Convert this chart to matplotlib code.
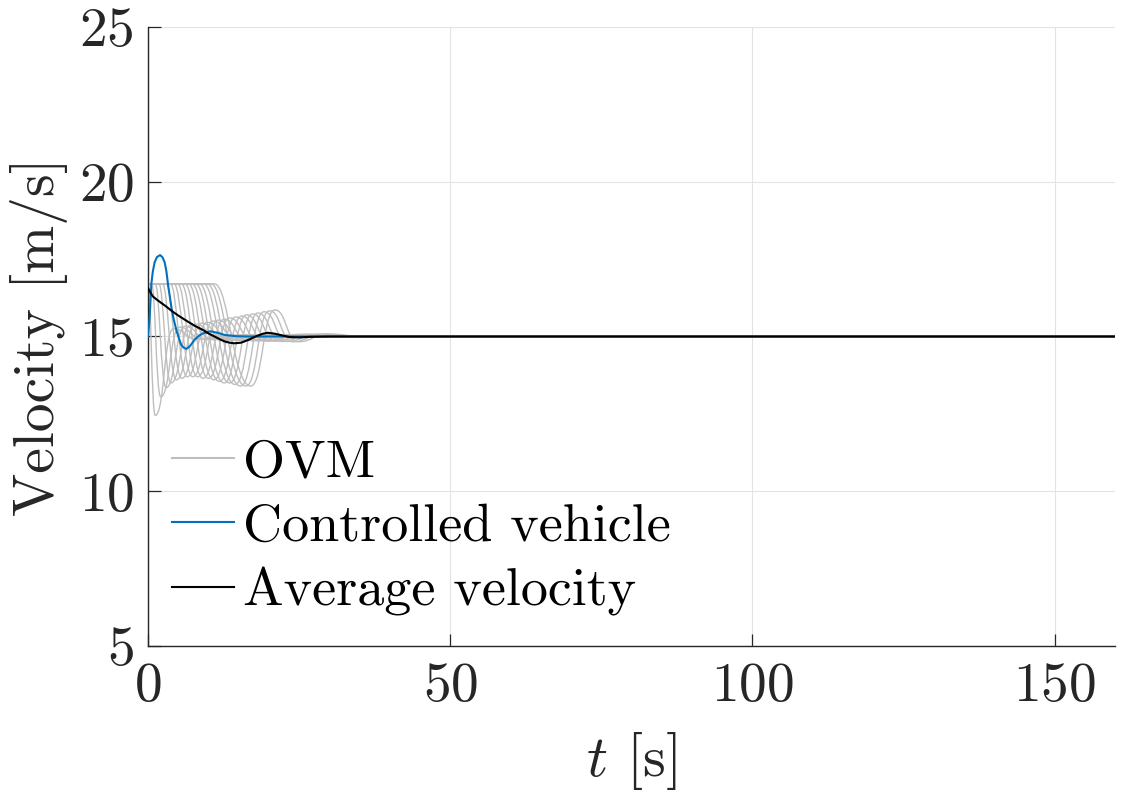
import matplotlib
matplotlib.use('Agg')
import matplotlib.pyplot as plt
from matplotlib.path import Path
from matplotlib.patches import PathPatch
from matplotlib.lines import Line2D

plt.rcParams['font.family'] = ['cmr10', 'DejaVu Serif']
plt.rcParams['mathtext.fontset'] = 'cm'
plt.rcParams['axes.formatter.use_mathtext'] = True

# ---------------- data ----------------
v_init = 16.7
v_eq = 15.0
t_end = 160.0

# OVM vehicles: plateau end, first minimum, first peak, undershoot, small overshoot, settle
ovm_t_drop = [0.0, 0.6, 1.2, 1.8, 2.4, 3.0, 3.7, 4.3, 4.9, 5.5, 6.1, 6.7, 7.3, 7.9, 8.5, 9.2, 9.8, 10.4, 11.0]
ovm_t_min = [1.2, 2.1, 3.0, 3.8, 4.7, 5.6, 6.5, 7.4, 8.2, 9.1, 10.0, 10.9, 11.8, 12.6, 13.5, 14.4, 15.3, 16.2, 17.0]
ovm_v_min = [12.45, 13.05, 13.35, 13.5, 13.6, 13.65, 13.7, 13.7, 13.7, 13.65, 13.65, 13.6, 13.55, 13.5, 13.5, 13.45, 13.4, 13.4, 13.4]
ovm_t_peak = [4.2, 5.2, 6.1, 7.0, 7.9, 8.9, 9.8, 10.8, 11.6, 12.6, 13.5, 14.5, 15.5, 16.3, 17.3, 18.2, 19.2, 20.1, 21.0]
ovm_v_peak = [15.25, 15.3, 15.33, 15.36, 15.4, 15.43, 15.46, 15.5, 15.53, 15.56, 15.6, 15.63, 15.66, 15.7, 15.73, 15.76, 15.8, 15.83, 15.86]
ovm_t_under = [8.0, 9.0, 9.9, 10.8, 11.7, 12.7, 13.6, 14.6, 15.4, 16.4, 17.3, 18.3, 19.3, 20.1, 21.1, 22.0, 23.0, 23.9, 24.8]
ovm_v_under = [14.92, 14.92, 14.9, 14.9, 14.9, 14.88, 14.88, 14.88, 14.87, 14.87, 14.86, 14.86, 14.85, 14.85, 14.85, 14.84, 14.84, 14.83, 14.83]
ovm_t_over = [13.0, 14.0, 14.9, 15.8, 16.7, 17.7, 18.6, 19.6, 20.4, 21.4, 22.3, 23.3, 24.3, 25.1, 26.1, 27.0, 28.0, 28.9, 29.8]
ovm_v_over = [15.04, 15.04, 15.04, 15.05, 15.05, 15.05, 15.05, 15.05, 15.06, 15.06, 15.06, 15.06, 15.06, 15.07, 15.07, 15.07, 15.07, 15.08, 15.08]
ovm_t_settle = [19.0, 20.0, 20.9, 21.8, 22.7, 23.7, 24.6, 25.6, 26.4, 27.4, 28.3, 29.3, 30.3, 31.1, 32.1, 33.0, 34.0, 34.9, 35.8]

# controlled vehicle
cv_t = [0, 0.28, 0.55, 0.8, 1.1, 1.5, 2.0, 2.4, 2.75, 3.05, 3.3, 3.6, 3.86, 4.2, 4.7, 5.1, 5.5,
        5.9, 6.35, 6.9, 7.7, 8.4, 9.1, 10.3, 11.5, 12.7, 14.5, 16.6, 160]
cv_v = [15.0, 15.64, 16.7, 17.1, 17.4, 17.57, 17.63, 17.56, 17.4, 17.1, 16.7, 16.3, 15.96, 15.6, 15.2, 14.95, 14.73,
        14.64, 14.6, 14.68, 14.89, 15.02, 15.1, 15.17, 15.12, 15.05, 15.01, 15.0, 15.0]

# average velocity
avg_t = [0, 0.4, 0.83, 1.66, 2.8, 4.1, 5.3, 6.6, 7.8, 9.1, 10.0, 11.0, 12.0, 12.7, 13.5, 14.3, 15.4,
         16.6, 17.8, 19.0, 19.8, 21.0, 22.3, 23.5, 25.0, 27, 30, 160]
avg_v = [16.56, 16.42, 16.29, 16.16, 16.0, 15.8, 15.64, 15.48, 15.34, 15.21, 15.1, 15.0, 14.9, 14.84, 14.8, 14.78, 14.8,
         14.89, 15.0, 15.09, 15.12, 15.09, 15.03, 14.98, 14.97, 14.99, 15.0, 15.0]

legend_labels = ['OVM', 'Controlled vehicle', 'Average velocity']
x_ticks = [0, 50, 100, 150]
y_ticks = [5, 10, 15, 20, 25]

# ---------------- styles ----------------
c_gray = '#BEBEBE'
c_blue = '#0072BD'
c_black = '#000000'
c_axis = '#262626'

fig = plt.figure(figsize=(11.32, 7.95), dpi=100)
ax = fig.add_axes([148 / 1132, (795 - 646) / 795, (1115 - 148) / 1132, (646 - 27) / 795])


def smooth_path(points, first_handles=(0.4, 0.5)):
    """Bezier path through key points with horizontal tangents at each key point."""
    verts = [points[0]]
    codes = [Path.MOVETO]
    for i in range(1, len(points)):
        (ta, va), (tb, vb) = points[i - 1], points[i]
        if va == vb:
            verts.append((tb, vb))
            codes.append(Path.LINETO)
            continue
        a, b = (first_handles if i == 1 or (i == 2 and points[0][1] == points[1][1]) else (0.5, 0.5))
        dt = tb - ta
        verts += [(ta + a * dt, va), (tb - b * dt, vb), (tb, vb)]
        codes += [Path.CURVE4] * 3
    return Path(verts, codes)


for k in range(len(ovm_t_drop)):
    pts = [(0.0, v_init)]
    if ovm_t_drop[k] > 0:
        pts.append((ovm_t_drop[k], v_init))
    pts += [(ovm_t_min[k], ovm_v_min[k]), (ovm_t_peak[k], ovm_v_peak[k]),
            (ovm_t_under[k], ovm_v_under[k]), (ovm_t_over[k], ovm_v_over[k]),
            (ovm_t_settle[k], v_eq), (t_end, v_eq)]
    ax.add_patch(PathPatch(smooth_path(pts), facecolor='none', edgecolor=c_gray,
                           lw=1.0, zorder=2))

ax.plot(cv_t, cv_v, color=c_blue, lw=1.5, zorder=3)
ax.plot(avg_t, avg_v, color=c_black, lw=1.5, zorder=4)

ax.set_xlim(0, 160)
ax.set_ylim(5, 25)
ax.set_xticks(x_ticks)
ax.set_yticks(y_ticks)
ax.grid(True, color='#E3E3E3', lw=0.8)
ax.set_axisbelow(True)
for s in ['top', 'right']:
    ax.spines[s].set_visible(False)
for s in ['left', 'bottom']:
    ax.spines[s].set_color(c_axis)
    ax.spines[s].set_linewidth(1.0)
ax.tick_params(direction='in', length=9, width=0.9, colors=c_axis, labelsize=40)
ax.tick_params(axis='x', pad=12)
ax.tick_params(axis='y', pad=10)

ax.set_ylabel('Velocity [m/s]', fontsize=41.5, color=c_axis)
ax.set_xlabel(r'$t$ [s]', fontsize=42, color=c_axis)
ax.yaxis.set_label_coords(-0.083, 0.5)
ax.xaxis.set_label_coords(0.5, -0.135)

handles = [Line2D([], [], color=c_gray, lw=1.5),
           Line2D([], [], color=c_blue, lw=1.5),
           Line2D([], [], color=c_black, lw=1.5)]
ax.legend(handles, legend_labels, loc='lower left', bbox_to_anchor=(0.025, 0.048),
          frameon=False, fontsize=39, handlelength=1.15, handletextpad=0.15,
          labelspacing=0.3, borderpad=0, borderaxespad=0)

fig.savefig('out.png', dpi=100)
